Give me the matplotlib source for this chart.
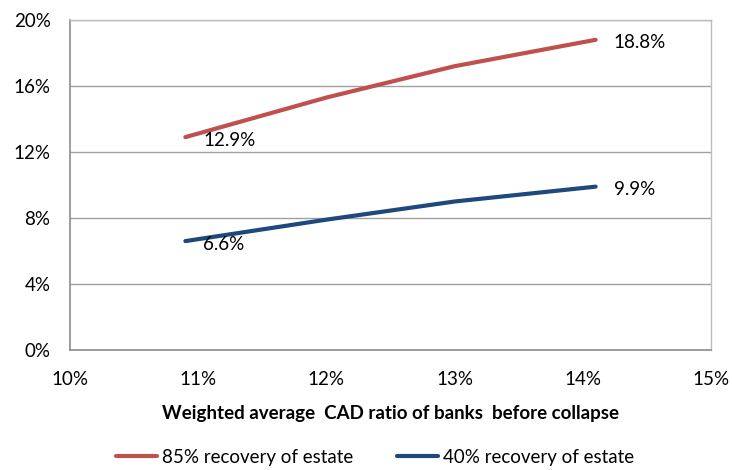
import matplotlib
matplotlib.use("Agg")
import matplotlib.pyplot as plt
from matplotlib.ticker import FuncFormatter

plt.rcParams['font.family'] = ['Lato', 'DejaVu Sans']

cad = [10.9, 12.0, 13.0, 14.1]
rec85 = [12.9, 15.3, 17.2, 18.8]
rec40 = [6.6, 7.9, 9.0, 9.9]
series_names = ["85% recovery of estate", "40% recovery of estate"]
xticks = [10, 11, 12, 13, 14, 15]
yticks = [0, 4, 8, 12, 16, 20]

red = '#C0504D'
blue = '#1F497D'
FS = 13.5

fig = plt.figure(figsize=(7.32, 4.70), dpi=100)
ax = fig.add_axes([70/732, 120/470, 641/732, 330/470])

l1, = ax.plot(cad, rec85, color=red, lw=3.0, solid_capstyle='round', label=series_names[0])
l2, = ax.plot(cad, rec40, color=blue, lw=3.0, solid_capstyle='round', label=series_names[1])

ax.set_xlim(10, 15)
ax.set_ylim(0, 20)
ax.set_xticks(xticks)
ax.set_yticks(yticks)
ax.xaxis.set_major_formatter(FuncFormatter(lambda v, p: f"{v:.0f}%"))
ax.yaxis.set_major_formatter(FuncFormatter(lambda v, p: f"{v:.0f}%"))
ax.tick_params(axis='both', length=0, labelsize=FS, colors='black')
ax.tick_params(axis='x', pad=15)
ax.tick_params(axis='y', pad=14)
ax.grid(axis='y', color='#a0a0a0', lw=1)
ax.set_axisbelow(True)
for s in ['top', 'right']:
    ax.spines[s].set_color('#bdbdbd')
    ax.spines[s].set_linewidth(1)
for s in ['left', 'bottom']:
    ax.spines[s].set_color('#8c8c8c')
    ax.spines[s].set_linewidth(1.2)

# data labels
for x, y in [(cad[0], rec85[0]), (cad[0], rec40[0])]:
    ax.annotate(f"{y:.1f}%", (x, y), xytext=(18, -3), textcoords='offset pixels',
                ha='left', va='center', fontsize=FS)
for x, y in [(cad[-1], rec85[-1]), (cad[-1], rec40[-1])]:
    ax.annotate(f"{y:.1f}%", (x, y), xytext=(18, -3), textcoords='offset pixels',
                ha='left', va='center', fontsize=FS)

ax.set_xlabel("Weighted average  CAD ratio of banks  before collapse",
              fontsize=FS, fontweight='bold', labelpad=12)

fig.legend(handles=[l1, l2], loc='center', bbox_to_anchor=(375/732, 1 - 457/470),
           ncol=2, frameon=False, fontsize=FS, handlelength=2.2,
           columnspacing=2.3, handletextpad=0.27)

fig.savefig("out.png", dpi=100)
